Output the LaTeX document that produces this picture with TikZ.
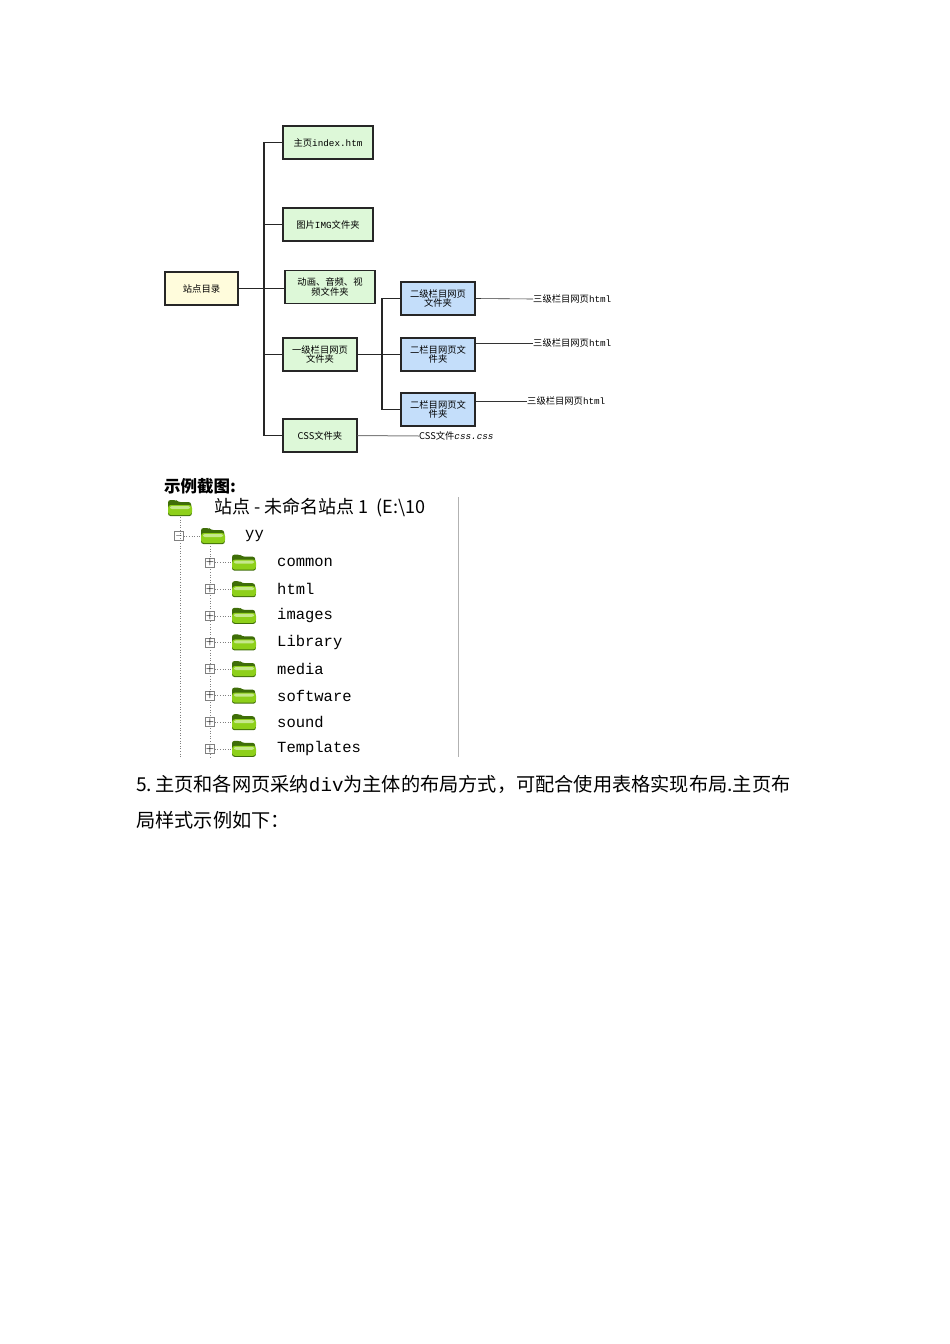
\documentclass[tikz,border=0pt]{standalone}
\usepackage{fontspec}
\newfontfamily\cjk{Noto Sans CJK SC}
\newfontfamily\mono{Liberation Mono}
\definecolor{boxgreen}{HTML}{DDF8D8}
\definecolor{boxyellow}{HTML}{FFFCDC}
\definecolor{boxblue}{HTML}{C4DEFA}
\definecolor{fold}{HTML}{8ED01A}
\definecolor{folddark}{HTML}{3F6E08}
\begin{document}
\begin{tikzpicture}[x=1pt,y=-1pt,
  bx/.style={draw=black!85,line width=1.2pt,minimum width=#1,minimum height=33pt,inner sep=1pt,align=center,font=\cjk\fontsize{9.3}{8.5}\selectfont},
  g/.style={bx=#1,fill=boxgreen},
  trunk/.style={line width=1.3pt,black!85},
  thin/.style={line width=0.6pt,black!80},
  lbl/.style={font=\cjk\fontsize{9.3}{9}\selectfont,inner sep=0pt,anchor=west},
  row/.style={font=\mono\fontsize{15.5}{15}\selectfont,anchor=west,inner sep=0pt},
  pbox/.style={draw=black!50,line width=0.5pt,minimum size=9pt,inner sep=0pt,font=\fontsize{9}{9}\selectfont\bfseries},
  dot/.style={gray,dotted,line width=0.6pt}]
\useasboundingbox (0,0) rectangle (950,1344);
\node[bx=73pt,fill=boxyellow] (root) at (201.5,288.5) {站点目录};
\node[g=90pt] (a) at (328,142.5) {主页{\mono index.htm}};
\node[g=90pt] (b) at (328,224.5) {图片{\mono IMG}文件夹};
\node[g=90pt] (c) at (330,287) {动画、音频、视\\频文件夹};
\node[g=74pt] (d) at (320,354.5) {一级栏目网页\\文件夹};
\node[g=74pt] (e) at (320,435.5) {CSS文件夹};
\node[bx=74pt,fill=boxblue] (f) at (438,298.5) {二级栏目网页\\文件夹};
\node[bx=74pt,fill=boxblue] (h) at (438,354.5) {二栏目网页文\\件夹};
\node[bx=74pt,fill=boxblue] (k) at (438,409.5) {二栏目网页文\\件夹};
\coordinate (t1) at (264,142.5);
\coordinate (t2) at (264,435.5);
\draw[trunk] (a.west) -- (t1) -- (t2) -- (e.west);
\draw[trunk] (b.west) -- (264,224.5);
\draw[trunk] (root.east) -- (c.west|-root.east);
\draw[trunk] (d.west) -- (264,354.5);
\draw[trunk] (d.east) -- (h.west);
\draw[trunk] (f.west) -- (382,298.5) -- (382,409.5) -- (k.west);
\node[lbl] (f3) at (533,299) {三级栏目网页{\mono html}};
\node[lbl] (h3) at (533,343) {三级栏目网页{\mono html}};
\node[lbl] (k3) at (527,401) {三级栏目网页{\mono html}};
\node[lbl] (e3) at (419,436) {CSS文件{\mono\itshape css.css}};
\draw[thin] (f.east) -- (f3.west);
\draw[thin] (h.east|-h3.west) -- (h3.west);
\draw[thin] (k.east|-k3.west) -- (k3.west);
\draw[line width=1pt,gray] (e.east) -- (e3.west);
% screenshot
\node[font=\cjk\bfseries\fontsize{16.5}{16}\selectfont,anchor=west,inner sep=0pt] (title) at (164,486) {示例截图:};
\draw[gray!60,line width=0.8pt] (458,497) -- (458,757);
\begin{scope}
\clip (160,494) rectangle (457,760);
\node[font=\cjk\fontsize{18}{18}\selectfont,anchor=west,inner sep=0pt] (site) at (214,508) {站点 - 未命名站点 1 \ (E:\textbackslash 10};
\end{scope}
\def\folder#1#2{%
  \fill[folddark,rounded corners=2.5pt] (#1-12,#2-8) -- (#1-4,#2-8) -- (#1-2,#2-6) -- (#1+11,#2-6) -- (#1+12,#2+8) -- (#1-12,#2+8) -- cycle;
  \fill[fold,rounded corners=3pt] (#1-12,#2-3) rectangle (#1+12,#2+7);
  \fill[fold!50!white,rounded corners=2pt] (#1-10,#2-2) rectangle (#1+10,#2+1);}
\folder{180}{508}
\folder{213}{536}
\draw[dot] (180,517) -- (180,757);
\node[pbox] (m) at (179,536) {$-$};
\draw[dot] (m.east) -- (200,536);
\node[row] (yy) at (245,536) {yy};
\draw[dot] (210,546) -- (210,757);
\foreach \t [count=\i] in {common,html,images,Library,media,software,sound,Templates}{
  \pgfmathsetmacro{\yy}{536+26.6*\i}
  \folder{244}{\yy}
  \node[pbox,fill=white] (p\i) at (210,\yy) {+};
  \draw[dot] (p\i.east) -- (231,\yy);
  \node[row] (r\i) at (277,\yy) {\t};
}
% paragraph
\node[font=\cjk\fontsize{19.2}{19}\selectfont,anchor=west,inner sep=0pt] (p1) at (136,784) {5.\,主页和各网页采纳{\mono div}为主体的布局方式，可配合使用表格实现布局.主页布};
\node[font=\cjk\fontsize{19.2}{19}\selectfont,anchor=west,inner sep=0pt] (p2) at (136,820) {局样式示例如下：};
\end{tikzpicture}
\end{document}
